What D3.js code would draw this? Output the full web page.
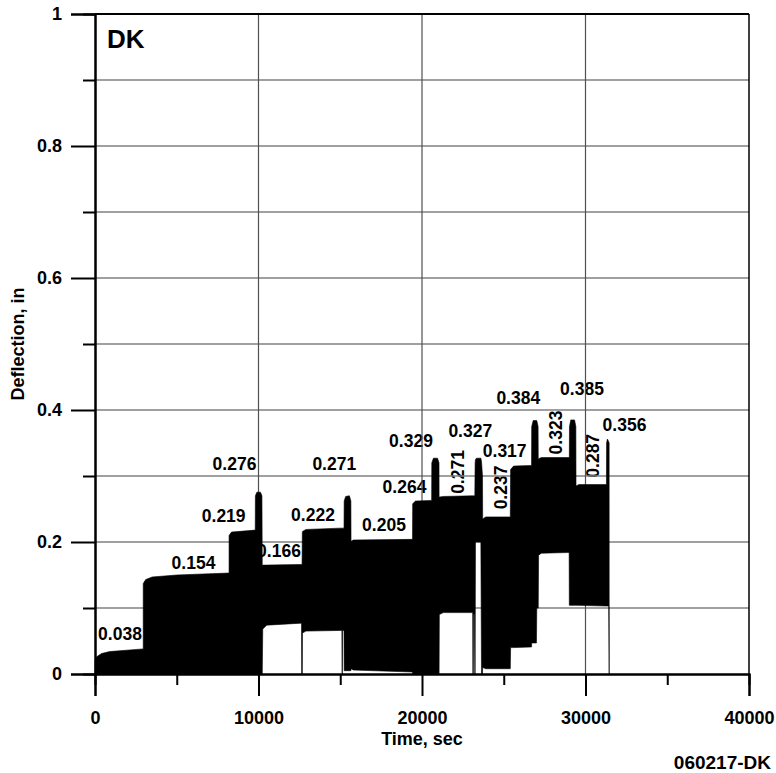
<!DOCTYPE html>
<html>
<head>
<meta charset="utf-8">
<script src="https://cdn.jsdelivr.net/npm/d3@7"></script>
<style>
  html, body { margin: 0; padding: 0; background: #fff; }
  svg { display: block; font-family: "Liberation Sans", Arial, sans-serif; font-weight: bold; }
</style>
</head>
<body>
<svg id="chart" width="776" height="773"></svg>
<script>
// ---- data ----
const timeSec = [
  0, 0, 100, 400, 900, 2950,
  2950, 3100, 3500, 5000, 8200,
  8200, 8350, 9800,
  9810, 9900, 10120, 10210,
  10230, 10260, 10500, 12600, 12630, 12640, 12665,
  12680, 12690, 12900, 15000, 15100, 15110, 15130, 15140, 15230,
  15240, 15330, 15560, 15650,
  15660, 15800, 19420,
  19430, 19600, 20590,
  20600, 20700, 20950, 21040,
  21045, 21060, 21300, 23100, 23110, 23140, 23150, 23200, 23230,
  23250, 23270, 23330, 23600, 23640, 23700,
  23710, 23900, 25400,
  25420, 25600, 26700,
  26710, 26800, 27000, 27020, 27100,
  27110, 27130, 27300, 28900, 29000, 29010,
  29020, 29100, 29330, 29410,
  29420, 29600, 31280,
  31290, 31340, 31420, 31445, 31450
];
const upperIn = [
  0.000, 0.020, 0.026, 0.031, 0.034, 0.038,
  0.137, 0.143, 0.147, 0.150, 0.153,
  0.210, 0.215, 0.218,
  0.270, 0.2755, 0.2755, 0.270,
  0.163, 0.165, 0.165, 0.166, 0.166, 0.166, 0.166,
  0.214, 0.216, 0.219, 0.221, 0.221, 0.221, 0.221, 0.221, 0.221,
  0.262, 0.269, 0.270, 0.262,
  0.201, 0.203, 0.204,
  0.258, 0.262, 0.263,
  0.320, 0.327, 0.327, 0.320,
  0.268, 0.268, 0.269, 0.270, 0.270, 0.270, 0.270, 0.270, 0.270,
  0.320, 0.325, 0.327, 0.327, 0.322, 0.300,
  0.235, 0.238, 0.238,
  0.310, 0.315, 0.316,
  0.375, 0.384, 0.384, 0.384, 0.375,
  0.325, 0.326, 0.328, 0.328, 0.328, 0.328,
  0.375, 0.385, 0.385, 0.375,
  0.285, 0.287, 0.287,
  0.350, 0.356, 0.352, 0.350, 0.000
];
const lowerIn = [
  0, 0, 0, 0, 0, 0,
  0, 0, 0, 0, 0,
  0, 0, 0,
  0, 0, 0, 0,
  0, 0.068, 0.074, 0.077, 0.077, 0, 0,
  0, 0.062, 0.065, 0.066, 0.066, 0, 0, 0.066, 0.066,
  0.005, 0.005, 0.005, 0.005,
  0.008, 0.006, 0.003,
  0, 0, 0,
  0, 0, 0, 0,
  0, 0.090, 0.093, 0.093, 0, 0, 0.090, 0.090, 0,
  0, 0.200, 0.200, 0.200, 0, 0,
  0.010, 0.008, 0.008,
  0.040, 0.040, 0.041,
  0.047, 0.047, 0.047, 0.100, 0.100,
  0.100, 0.180, 0.183, 0.184, 0.184, 0.104,
  0.104, 0.104, 0.104, 0.104,
  0.104, 0.104, 0.103,
  0.103, 0.103, 0.103, 0.000, 0.000
];

// peak / level annotations (text, time, deflection, rotated)
const labelText = ["0.038","0.154","0.219","0.276","0.166","0.222","0.271","0.205","0.264","0.329",
                   "0.271","0.327","0.317","0.237","0.384","0.323","0.385","0.287","0.356"];
const labelTime = [1529, 6024, 7871, 8532, 11253, 13333, 14636, 17675, 18929, 19327,
                   22201, 22953, 25057, 24819, 25889, 28183, 29785, 30427, 32384];
const labelDefl = [0.0515, 0.1591, 0.2303, 0.3091, 0.1773, 0.2318, 0.3091, 0.2167, 0.2738, 0.3444,
                   0.3061, 0.3595, 0.3288, 0.2826, 0.4091, 0.3659, 0.4227, 0.3306, 0.3686];
const labelRot  = [0,0,0,0,0,0,0,0,0,0, 1,0,0,1,0,1,0,1,0];

const xMajor = [0, 10000, 20000, 30000, 40000];
const xMinor = [5000, 15000, 25000, 35000];
const yMajor = [0, 0.2, 0.4, 0.6, 0.8, 1];
const yMinor = [0.1, 0.3, 0.5, 0.7, 0.9];
const yGrid  = [0.1, 0.2, 0.3, 0.4, 0.5, 0.6, 0.7, 0.8, 0.9];
const xGrid  = [10000, 20000, 30000];

// ---- layout ----
const svg = d3.select("#chart");
const L = 95, R = 749, T = 14, B = 674;
const x = d3.scaleLinear().domain([0, 40000]).range([L, R]);
const y = d3.scaleLinear().domain([0, 1]).range([B, T]);

// annotation labels (drawn beneath the data)
const lg = svg.append("g").attr("font-size", 17.5).attr("fill", "#000");
labelText.forEach((t, i) => {
  const px = x(labelTime[i]), py = y(labelDefl[i]);
  const tx = lg.append("text").text(t).attr("text-anchor", "middle");
  if (labelRot[i]) {
    tx.attr("transform", `translate(${px},${py}) rotate(-90)`).attr("dy", "0.36em");
  } else {
    tx.attr("x", px).attr("y", py);
  }
});

// grid
svg.append("g").selectAll("line").data(yGrid).join("line")
  .attr("x1", L).attr("x2", R).attr("y1", d => y(d)).attr("y2", d => y(d))
  .attr("stroke", "#808080").attr("stroke-width", 1.5);
svg.append("g").selectAll("line").data(xGrid).join("line")
  .attr("x1", d => x(d)).attr("x2", d => x(d)).attr("y1", T).attr("y2", B)
  .attr("stroke", "#505050").attr("stroke-width", 1.2);

// data envelope
const pts = timeSec.map((t, i) => [t, upperIn[i], lowerIn[i]]);
const area = d3.area()
  .x(d => x(d[0]))
  .y0(d => y(d[2]))
  .y1(d => y(d[1]));
svg.append("path").datum(pts).attr("d", area).attr("fill", "#000").attr("stroke", "#000").attr("stroke-width", 0.6);

// frame top/right
svg.append("line").attr("x1", L).attr("x2", R).attr("y1", T).attr("y2", T).attr("stroke", "#000").attr("stroke-width", 2);
svg.append("line").attr("x1", R).attr("x2", R).attr("y1", T).attr("y2", B).attr("stroke", "#000").attr("stroke-width", 1.5);

// axes
const yAx = svg.append("g").attr("transform", `translate(${L},0)`)
  .call(d3.axisLeft(y).tickValues(yMajor).tickFormat(d3.format("~g")).tickSize(24).tickPadding(9));
const yAxMin = svg.append("g").attr("transform", `translate(${L},0)`)
  .call(d3.axisLeft(y).tickValues(yMinor).tickFormat("").tickSize(12));
const xAx = svg.append("g").attr("transform", `translate(0,${B})`)
  .call(d3.axisBottom(x).tickValues(xMajor).tickFormat(d3.format("d")).tickSize(22).tickPadding(15));
const xAxMin = svg.append("g").attr("transform", `translate(0,${B})`)
  .call(d3.axisBottom(x).tickValues(xMinor).tickFormat("").tickSize(11));
[yAx, yAxMin, xAx, xAxMin].forEach(g => {
  g.select(".domain").attr("stroke", "#000").attr("stroke-width", 2);
  g.selectAll(".tick line").attr("stroke", "#000").attr("stroke-width", 2);
  g.selectAll(".tick text").attr("font-size", 18).attr("font-family", "'Liberation Sans', Arial, sans-serif")
    .attr("font-weight", "bold").attr("fill", "#000");
});

// titles
svg.append("text").text("Time, sec").attr("x", x(20000)).attr("y", 745)
  .attr("text-anchor", "middle").attr("font-size", 18);
svg.append("text").text("Deflection, in")
  .attr("transform", `translate(24,${y(0.5)}) rotate(-90)`)
  .attr("text-anchor", "middle").attr("font-size", 18);
svg.append("text").text("DK").attr("x", 107).attr("y", 48).attr("font-size", 26);
svg.append("text").text("060217-DK").attr("x", 771).attr("y", 769)
  .attr("text-anchor", "end").attr("font-size", 19);
</script>
</body>
</html>
